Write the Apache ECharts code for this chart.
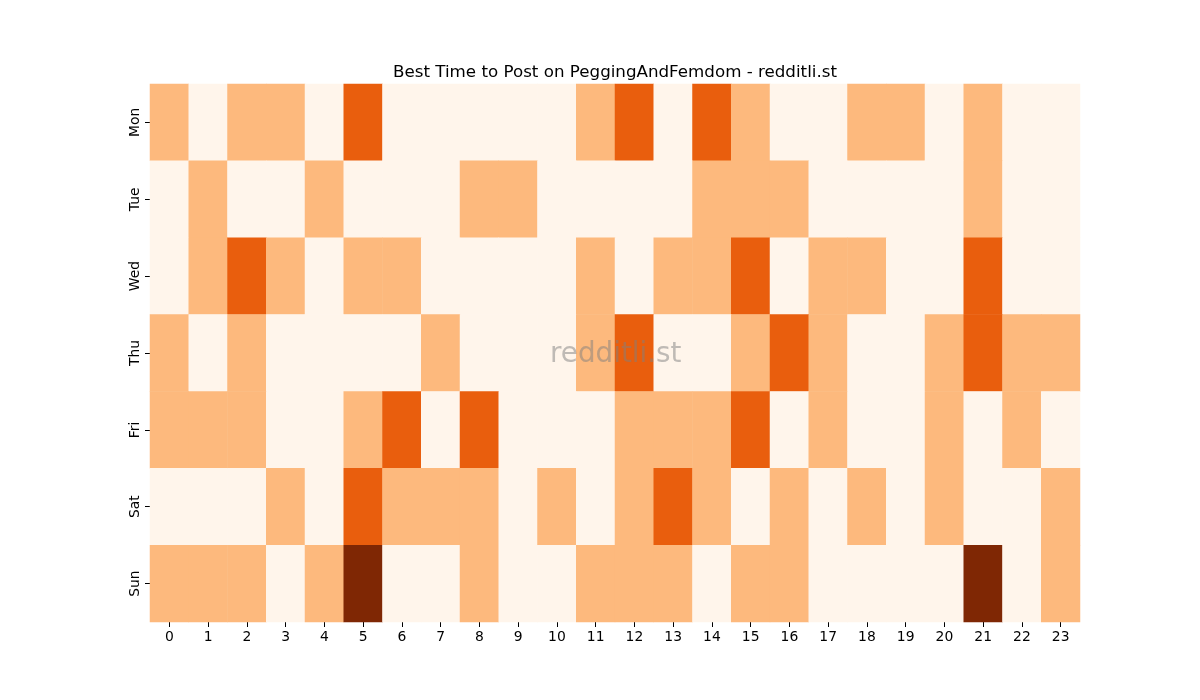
<!DOCTYPE html>
<html>
<head>
<meta charset="utf-8">
<script src="https://cdn.jsdelivr.net/npm/echarts@6/dist/echarts.min.js"></script>
<style>
  html, body { margin: 0; padding: 0; background: #fff; }
  #main { width: 1200px; height: 700px; }
</style>
</head>
<body>
<div id="main"></div>
<script>
var hours = ['0', '1', '2', '3', '4', '5', '6', '7', '8', '9', '10', '11',
             '12', '13', '14', '15', '16', '17', '18', '19', '20', '21', '22', '23'];
var days = ['Mon', 'Tue', 'Wed', 'Thu', 'Fri', 'Sat', 'Sun'];

// one row per day, one value per hour (0..3)
var mon = [1, 0, 1, 1, 0, 2, 0, 0, 0, 0, 0, 1, 2, 0, 2, 1, 0, 0, 1, 1, 0, 1, 0, 0];
var tue = [0, 1, 0, 0, 1, 0, 0, 0, 1, 1, 0, 0, 0, 0, 1, 1, 1, 0, 0, 0, 0, 1, 0, 0];
var wed = [0, 1, 2, 1, 0, 1, 1, 0, 0, 0, 0, 1, 0, 1, 1, 2, 0, 1, 1, 0, 0, 2, 0, 0];
var thu = [1, 0, 1, 0, 0, 0, 0, 1, 0, 0, 0, 1, 2, 0, 0, 1, 2, 1, 0, 0, 1, 2, 1, 1];
var fri = [1, 1, 1, 0, 0, 1, 2, 0, 2, 0, 0, 0, 1, 1, 1, 2, 0, 1, 0, 0, 1, 0, 1, 0];
var sat = [0, 0, 0, 1, 0, 2, 1, 1, 1, 0, 1, 0, 1, 2, 1, 0, 1, 0, 1, 0, 1, 0, 0, 1];
var sun = [1, 1, 1, 0, 1, 3, 0, 0, 1, 0, 0, 1, 1, 1, 0, 1, 1, 0, 0, 0, 0, 3, 0, 1];

var rows = [mon, tue, wed, thu, fri, sat, sun];
var cells = [];
rows.forEach(function (row, d) {
    row.forEach(function (v, h) {
        cells.push([h, d, v]);
    });
});

var font = 'DejaVu Sans';
var chart = echarts.init(document.getElementById('main'));
chart.setOption({
    animation: false,
    title: {
        text: 'Best Time to Post on PeggingAndFemdom - redditli.st',
        left: 610,
        top: 59,
        textAlign: 'center',
        textStyle: { fontFamily: font, fontSize: 16.7, fontWeight: 'normal', color: '#000' }
    },
    grid: { left: 150, right: 120, top: 84, bottom: 78 },
    xAxis: {
        type: 'category',
        data: hours,
        axisLine: { show: false },
        axisTick: { show: true, alignWithLabel: true, length: 5, lineStyle: { color: '#000' } },
        axisLabel: { fontFamily: font, fontSize: 13.9, color: '#000', margin: 8 },
        splitArea: { show: false }
    },
    yAxis: {
        type: 'category',
        data: days,
        inverse: true,
        axisLine: { show: false },
        axisTick: { show: true, alignWithLabel: true, length: 5, lineStyle: { color: '#000' } },
        axisLabel: { fontFamily: font, fontSize: 13.9, color: '#000', rotate: 90, margin: 8 }
    },
    visualMap: {
        show: false,
        type: 'piecewise',
        dimension: 2,
        pieces: [
            { value: 0, color: '#fff5eb' },
            { value: 1, color: '#fdb97d' },
            { value: 2, color: '#e95e0d' },
            { value: 3, color: '#7f2704' }
        ]
    },
    graphic: [{
        type: 'text',
        left: 550,
        top: 341,
        z: 100,
        style: {
            text: 'redditli.st',
            fontFamily: font,
            fontSize: 27.8,
            fill: 'rgba(128,128,128,0.5)'
        }
    }],
    series: [{
        type: 'heatmap',
        data: cells,
        itemStyle: { borderWidth: 0 },
        emphasis: { disabled: true }
    }]
});
</script>
</body>
</html>
